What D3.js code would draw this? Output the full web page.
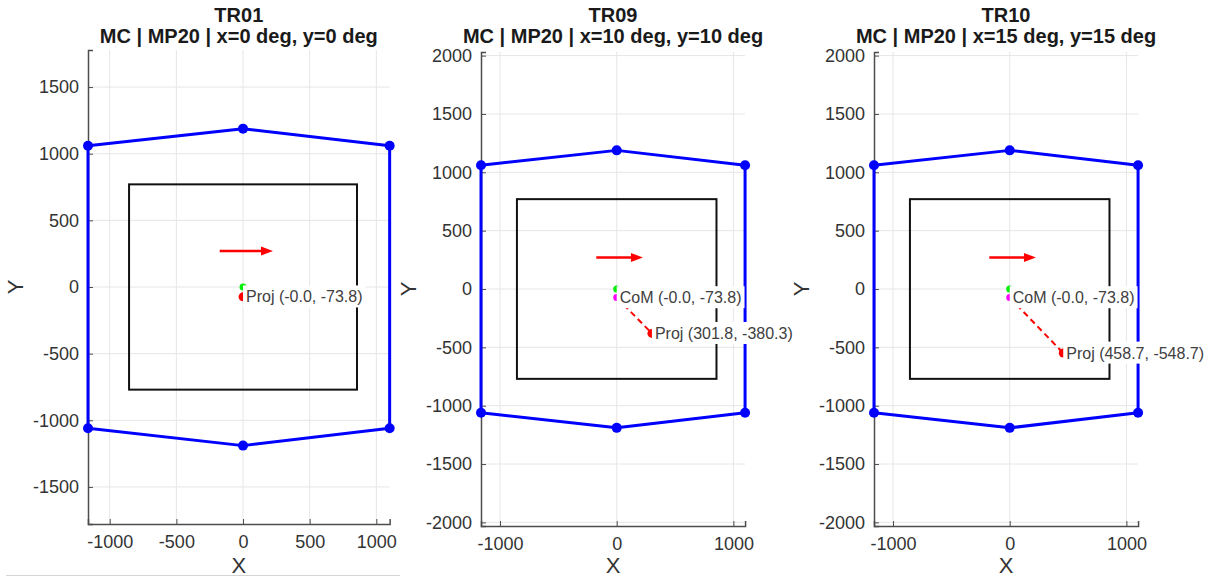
<!DOCTYPE html>
<html>
<head>
<meta charset="utf-8">
<script src="https://cdn.jsdelivr.net/npm/d3@7"></script>
<style>
    body { margin: 0; background: #fff; }
    svg { font-family: 'Liberation Sans', Arial, sans-serif; }
</style>
</head>
<body>
<svg id="chart" width="1212" height="578"></svg>
<script>
// trial data
const trials = ['TR01', 'TR09', 'TR10'];
const subtitles = [
    'MC | MP20 | x=0 deg, y=0 deg',
    'MC | MP20 | x=10 deg, y=10 deg',
    'MC | MP20 | x=15 deg, y=15 deg'
];
const supportX = [-1163, 0, 1100, 1100, 0, -1163];
const supportY = [1060, 1188, 1060, -1060, -1190, -1060];
const plateX = [-855, 855];
const plateY = [-770, 770];
const arrowX = [-175, 225];
const arrowY = [270, 270];
const originPoint = [0, 0];
const comPoints = [[0, -73.8], [0, -73.8], [0, -73.8]];
const projPoints = [[0, -73.8], [301.8, -380.3], [458.7, -548.7]];
const comLabels = ['CoM (-0.0, -73.8)', 'CoM (-0.0, -73.8)', 'CoM (-0.0, -73.8)'];
const projLabels = ['Proj (-0.0, -73.8)', 'Proj (301.8, -380.3)', 'Proj (458.7, -548.7)'];
const xLimits = [-1163, 1100];
const yLimits = [[-1778, 1778], [-2031, 2031], [-2031, 2031]];
const xTicks = [[-1000, -500, 0, 500, 1000], [-1000, 0, 1000], [-1000, 0, 1000]];
const yTicks = [
    [-1500, -1000, -500, 0, 500, 1000, 1500],
    [-2000, -1500, -1000, -500, 0, 500, 1000, 1500, 2000],
    [-2000, -1500, -1000, -500, 0, 500, 1000, 1500, 2000]
];

// layout
const plotLeft = [88, 481, 874];
const plotTop = [50, 52, 52];
const plotHeight = 474;

const svg = d3.select('#chart');

// frame line of the first screenshot
svg.append('line')
    .attr('x1', 6).attr('x2', 400).attr('y1', 575.5).attr('y2', 575.5)
    .attr('stroke', '#d4d4d4').attr('stroke-width', 1);

function drawPanel(i) {
    const yDom = yLimits[i];
    const k = plotHeight / (yDom[1] - yDom[0]);   // axis equal
    const plotWidth = k * (xLimits[1] - xLimits[0]);
    const left = plotLeft[i];
    const top = plotTop[i];
    const bottom = top + plotHeight;
    const right = left + plotWidth;

    const x = d3.scaleLinear().domain(xLimits).range([left, right]);
    const y = d3.scaleLinear().domain(yDom).range([bottom, top]);
    const g = svg.append('g');

    // grid
    g.selectAll('.gx').data(xTicks[i]).enter().append('line')
        .attr('x1', d => x(d)).attr('x2', d => x(d))
        .attr('y1', top).attr('y2', bottom)
        .attr('stroke', '#e6e6e6').attr('stroke-width', 1);
    g.selectAll('.gy').data(yTicks[i]).enter().append('line')
        .attr('x1', left).attr('x2', right)
        .attr('y1', d => y(d)).attr('y2', d => y(d))
        .attr('stroke', '#e6e6e6').attr('stroke-width', 1);

    // axes (ticks point inward like matlab), plain hyphen minus
    const fmt = d => String(d);
    const xAxis = d3.axisBottom(x).tickValues(xTicks[i]).tickSize(-5).tickPadding(11).tickFormat(fmt);
    const yAxis = d3.axisLeft(y).tickValues(yTicks[i]).tickSize(-5).tickPadding(9).tickFormat(fmt);
    [[xAxis, `translate(0,${bottom})`], [yAxis, `translate(${left},0)`]].forEach(([ax, tr]) => {
        const a = g.append('g').attr('transform', tr).call(ax);
        a.select('.domain').attr('stroke', '#4d4d4d').attr('stroke-width', 1.5);
        a.selectAll('.tick line').attr('stroke', '#4d4d4d');
        a.selectAll('.tick text')
            .style('font-size', '18px')
            .style('font-family', "'Liberation Sans', Arial, sans-serif")
            .attr('fill', '#333');
    });

    // plate outline
    g.append('rect')
        .attr('x', x(plateX[0])).attr('y', y(plateY[1]))
        .attr('width', x(plateX[1]) - x(plateX[0]))
        .attr('height', y(plateY[0]) - y(plateY[1]))
        .attr('fill', 'none').attr('stroke', '#111').attr('stroke-width', 2);

    // base of support
    const pts = supportX.map((v, j) => [x(v), y(supportY[j])]);
    g.append('path')
        .attr('d', d3.line()(pts) + 'Z')
        .attr('fill', 'none').attr('stroke', '#0000ff').attr('stroke-width', 3)
        .attr('stroke-linejoin', 'round');
    g.selectAll('.vert').data(pts).enter().append('circle')
        .attr('cx', d => d[0]).attr('cy', d => d[1]).attr('r', 5)
        .attr('fill', '#0000ff');

    // direction arrow
    const ax0 = x(arrowX[0]), ax1 = x(arrowX[1]), ay = y(arrowY[0]);
    g.append('line')
        .attr('x1', ax0).attr('x2', ax1 - 9).attr('y1', ay).attr('y2', ay)
        .attr('stroke', '#ff0000').attr('stroke-width', 2.5);
    g.append('path')
        .attr('d', `M${ax1},${ay} L${ax1 - 12},${ay - 4.5} L${ax1 - 12},${ay + 4.5} Z`)
        .attr('fill', '#ff0000');

    // com -> projection
    const com = comPoints[i], proj = projPoints[i];
    const samePoint = com[0] === proj[0] && com[1] === proj[1];
    g.append('line')
        .attr('x1', x(com[0])).attr('y1', y(com[1]))
        .attr('x2', x(proj[0])).attr('y2', y(proj[1]))
        .attr('stroke', '#ff0000').attr('stroke-width', 2)
        .attr('stroke-dasharray', '6,4');

    g.append('circle').attr('cx', x(originPoint[0])).attr('cy', y(originPoint[1])).attr('r', 3.5).attr('fill', '#00ee00');
    g.append('circle').attr('cx', x(com[0])).attr('cy', y(com[1])).attr('r', 3.5).attr('fill', '#ff00ff');
    g.append('circle').attr('cx', x(proj[0])).attr('cy', y(proj[1])).attr('r', 4.5).attr('fill', '#ff0000');

    // labels with white boxes (proj label hides the com label when they coincide)
    const labels = samePoint ? [[proj, projLabels[i]]] : [[com, comLabels[i]], [proj, projLabels[i]]];
    labels.forEach(([p, txt]) => {
        const lg = g.append('g');
        const t = lg.append('text')
            .attr('x', x(p[0]) + 3).attr('y', y(p[1]))
            .attr('dy', '0.35em')
            .style('font-size', '16px')
            .attr('fill', '#404040')
            .text(txt);
        const bb = t.node().getBBox();
        lg.insert('rect', 'text')
            .attr('x', x(p[0])).attr('y', bb.y - 3)
            .attr('width', bb.width + 6).attr('height', bb.height + 5)
            .attr('fill', '#fff');
    });

    // titles
    const cx = (left + right) / 2;
    g.append('text').attr('x', cx).attr('y', 22)
        .attr('text-anchor', 'middle').style('font-size', '20px').style('font-weight', 'bold')
        .attr('fill', '#1a1a1a').text(trials[i]);
    g.append('text').attr('x', cx).attr('y', 43)
        .attr('text-anchor', 'middle').style('font-size', '20px').style('font-weight', 'bold')
        .attr('fill', '#1a1a1a').text(subtitles[i]);

    // axis labels
    g.append('text').attr('x', cx).attr('y', 573)
        .attr('text-anchor', 'middle').style('font-size', '22px')
        .attr('fill', '#333').text('X');
    g.append('text')
        .attr('transform', `translate(${left - 65},${(top + bottom) / 2}) rotate(-90)`)
        .attr('text-anchor', 'middle').style('font-size', '22px')
        .attr('fill', '#333').text('Y');
}

trials.forEach((t, i) => drawPanel(i));
</script>
</body>
</html>
